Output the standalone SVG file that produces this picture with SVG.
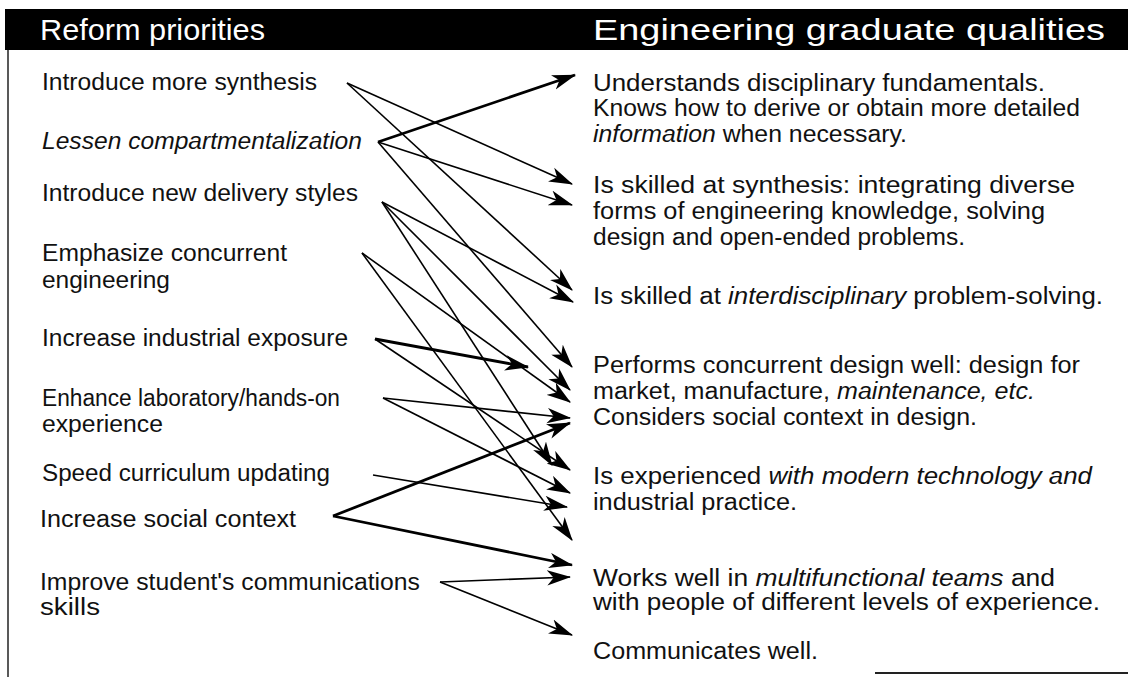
<svg xmlns="http://www.w3.org/2000/svg" width="1128" height="677" viewBox="0 0 1128 677">
<defs>
<marker id="ah" markerUnits="userSpaceOnUse" markerWidth="24" markerHeight="16" viewBox="0 0 22 14" refX="21" refY="7" orient="auto">
<path d="M0,0 L22,7 L0,14 L6,7 Z" fill="#000"/>
</marker>
</defs>
<style>
text{font-family:"Liberation Sans",Arial,Helvetica,sans-serif;font-size:23px;fill:#111}
.hd{font-size:29px;fill:#fff}
.q{font-size:23.5px}
.it{font-style:italic}
.c{stroke:#000;stroke-width:1.6;fill:none;marker-end:url(#ah)}
.k{stroke-width:2.8}
</style>
<rect x="0" y="0" width="1128" height="677" fill="#fff"/>
<g id="header">
<rect x="5" y="9" width="1123" height="41" fill="#000"/>
<text class="hd" x="40" y="40" textLength="225" lengthAdjust="spacingAndGlyphs">Reform priorities</text>
<text class="hd" x="593" y="40" textLength="512" lengthAdjust="spacingAndGlyphs">Engineering graduate qualities</text>
</g>
<g id="frame" stroke="#222" fill="none">
<line x1="8" y1="50" x2="8" y2="677" stroke-width="1.5"/>
<line x1="875" y1="673" x2="1128" y2="673" stroke-width="2"/>
</g>
<g id="r1"><text x="42" y="90" textLength="275" lengthAdjust="spacingAndGlyphs">Introduce more synthesis</text></g>
<g id="r2"><text class="it" x="42" y="149" textLength="320" lengthAdjust="spacingAndGlyphs">Lessen compartmentalization</text></g>
<g id="r3"><text x="42" y="201" textLength="316" lengthAdjust="spacingAndGlyphs">Introduce new delivery styles</text></g>
<g id="r4"><text x="42" y="261" textLength="245" lengthAdjust="spacingAndGlyphs">Emphasize concurrent</text><text x="42" y="288" textLength="128" lengthAdjust="spacingAndGlyphs">engineering</text></g>
<g id="r5"><text x="42" y="346" textLength="306" lengthAdjust="spacingAndGlyphs">Increase industrial exposure</text></g>
<g id="r6"><text x="42" y="406" textLength="298" lengthAdjust="spacingAndGlyphs">Enhance laboratory/hands-on</text><text x="42" y="432" textLength="121" lengthAdjust="spacingAndGlyphs">experience</text></g>
<g id="r7"><text x="42" y="481" textLength="288" lengthAdjust="spacingAndGlyphs">Speed curriculum updating</text></g>
<g id="r8"><text x="40" y="527" textLength="256" lengthAdjust="spacingAndGlyphs">Increase social context</text></g>
<g id="r9"><text x="40" y="590" textLength="380" lengthAdjust="spacingAndGlyphs">Improve student's communications</text><text x="40" y="615" textLength="60" lengthAdjust="spacingAndGlyphs">skills</text></g>

<g id="q1"><text class="q" x="593" y="91" textLength="452" lengthAdjust="spacingAndGlyphs">Understands disciplinary fundamentals.</text><text class="q" x="593" y="116" textLength="487" lengthAdjust="spacingAndGlyphs">Knows how to derive or obtain more detailed</text><text class="q" x="593" y="142" textLength="314" lengthAdjust="spacingAndGlyphs"><tspan class="it">information</tspan> when necessary.</text></g>
<g id="q2"><text class="q" x="593" y="193" textLength="482" lengthAdjust="spacingAndGlyphs">Is skilled at synthesis: integrating diverse</text><text class="q" x="593" y="219" textLength="452" lengthAdjust="spacingAndGlyphs">forms of engineering knowledge, solving</text><text class="q" x="593" y="245" textLength="372" lengthAdjust="spacingAndGlyphs">design and open-ended problems.</text></g>
<g id="q3"><text class="q" x="593" y="304" textLength="510" lengthAdjust="spacingAndGlyphs">Is skilled at <tspan class="it">interdisciplinary</tspan> problem-solving.</text></g>
<g id="q4"><text class="q" x="593" y="373" textLength="487" lengthAdjust="spacingAndGlyphs">Performs concurrent design well: design for</text><text class="q" x="593" y="399" textLength="442" lengthAdjust="spacingAndGlyphs">market, manufacture, <tspan class="it">maintenance, etc.</tspan></text><text class="q" x="593" y="425" textLength="384" lengthAdjust="spacingAndGlyphs">Considers social context in design.</text></g>
<g id="q5"><text class="q" x="593" y="484" textLength="499" lengthAdjust="spacingAndGlyphs">Is experienced <tspan class="it">with modern technology and</tspan></text><text class="q" x="593" y="510" textLength="204" lengthAdjust="spacingAndGlyphs">industrial practice.</text></g>
<g id="q6"><text class="q" x="593" y="586" textLength="462" lengthAdjust="spacingAndGlyphs">Works well in <tspan class="it">multifunctional teams</tspan> and</text><text class="q" x="593" y="610" textLength="507" lengthAdjust="spacingAndGlyphs">with people of different levels of experience.</text></g>
<g id="q7"><text class="q" x="593" y="659" textLength="225" lengthAdjust="spacingAndGlyphs">Communicates well.</text></g>

<g id="connectors">
<line class="c" x1="347" y1="83" x2="572" y2="184"/>
<line class="c" x1="347" y1="83" x2="572" y2="290"/>
<line class="c k" x1="378" y1="142" x2="575" y2="75"/>
<line class="c" x1="378" y1="142" x2="572" y2="205"/>
<line class="c" x1="378" y1="142" x2="572" y2="367"/>
<line class="c" x1="382" y1="202" x2="573" y2="302"/>
<line class="c" x1="382" y1="202" x2="570" y2="390"/>
<line class="c" x1="382" y1="202" x2="552" y2="465"/>
<line class="c" x1="362" y1="253" x2="570" y2="402"/>
<line class="c" x1="362" y1="253" x2="572" y2="540"/>
<line class="c k" x1="375" y1="339" x2="528" y2="367"/>
<line class="c" x1="375" y1="339" x2="570" y2="470"/>
<line class="c" x1="383" y1="398" x2="570" y2="418"/>
<line class="c" x1="383" y1="398" x2="570" y2="493"/>
<line class="c" x1="373" y1="475" x2="567" y2="507"/>
<line class="c k" x1="333" y1="516" x2="570" y2="423"/>
<line class="c k" x1="333" y1="516" x2="572" y2="565"/>
<line class="c" x1="440" y1="582" x2="570" y2="577"/>
<line class="c" x1="440" y1="582" x2="572" y2="635"/>
</g>
</svg>
